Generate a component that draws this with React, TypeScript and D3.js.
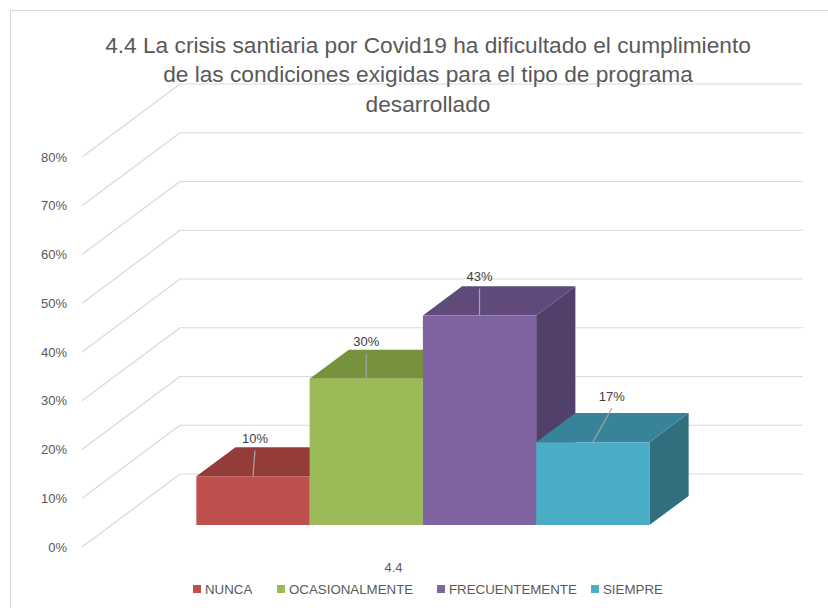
import React from "react";
import * as d3 from "d3";

const titleLines = [
  "4.4 La crisis santiaria por Covid19 ha dificultado el cumplimiento",
  "de las condiciones exigidas para el tipo de programa",
  "desarrollado",
];
const category = "4.4";
const seriesNames = ["NUNCA", "OCASIONALMENTE", "FRECUENTEMENTE", "SIEMPRE"];
const seriesValues = [0.1, 0.3, 0.43, 0.17];
const yTicks = [0, 0.1, 0.2, 0.3, 0.4, 0.5, 0.6, 0.7, 0.8];
const frontColors = ["#C0504D", "#9BBB59", "#8064A2", "#4BACC6"];
const topColors = ["#943C3A", "#76923C", "#604A7B", "#37849A"];
const sideColors = ["#7A302E", "#627A31", "#523F6A", "#316F7F"];
const labelShiftX = [2, 0, 0, 19];
const labelShiftY = [-38, -37, -39, -46];

const W = 828;
const H = 608;
const DX = 98;
const DY = -73;
const D0 = 0.3;
const D1 = 0.7;

export default function App() {
  const y = d3.scaleLinear().domain([0, 0.8]).range([547, 157]);
  const x = d3.scaleBand<string>().domain(seriesNames).range([82, 705]).paddingInner(0).paddingOuter(0.75);
  const fmt = d3.format(".0%");

  const P = (px: number, v: number, d: number): [number, number] => [px + d * DX, y(v) + d * DY];
  const poly = (pts: [number, number][]) => d3.line()(pts)! + "Z";

  const grey = "#595959";
  const font = "'Liberation Sans', Arial, sans-serif";

  return (
    <svg width={W} height={H} style={{ position: "absolute", left: 0, top: 0, background: "#fff" }}>
      <rect x={10.5} y={10.5} width={830} height={620} fill="#fff" stroke="#D9D9D9" />
      {/* gridlines: left wall diagonals and back wall horizontals */}
      {yTicks.map((t) => {
        const a = P(82, t, 0);
        const b = P(82, t, 1);
        const c = P(705, t, 1);
        return (
          <g key={t}>
            <line x1={a[0]} y1={a[1]} x2={b[0]} y2={b[1]} stroke="#D9D9D9" strokeWidth={1.2} />
            <line x1={b[0]} y1={b[1]} x2={c[0]} y2={c[1]} stroke="#D9D9D9" strokeWidth={1.2} />
          </g>
        );
      })}
      {yTicks.map((t) => (
        <text key={"l" + t} x={67} y={y(t)} dy="0.35em" textAnchor="end" fontFamily={font} fontSize={13} fill={grey}>
          {fmt(t)}
        </text>
      ))}
      {/* bars */}
      {seriesNames.map((s, i) => {
        const x0 = x(s)!;
        const x1 = x0 + x.bandwidth();
        const v = seriesValues[i];
        const front = poly([P(x0, 0, D0), P(x1, 0, D0), P(x1, v, D0), P(x0, v, D0)]);
        const top = poly([P(x0, v, D0), P(x1, v, D0), P(x1, v, D1), P(x0, v, D1)]);
        const side = poly([P(x1, 0, D0), P(x1, 0, D1), P(x1, v, D1), P(x1, v, D0)]);
        return (
          <g key={s}>
            <path d={side} fill={sideColors[i]} />
            <path d={top} fill={topColors[i]} />
            <path d={front} fill={frontColors[i]} />
          </g>
        );
      })}
      {/* data labels with leader lines */}
      {seriesNames.map((s, i) => {
        const cx = x(s)! + x.bandwidth() / 2;
        const v = seriesValues[i];
        const [bx, by] = P(cx, v, D0);
        const lx = bx + labelShiftX[i];
        const ly = by + labelShiftY[i];
        return (
          <g key={"d" + s}>
            <line x1={lx} y1={ly + 12} x2={bx} y2={by} stroke="#A6A6A6" strokeWidth={1.2} />
            <text x={lx} y={ly} dy="0.35em" textAnchor="middle" fontFamily={font} fontSize={13} fill="#404040">
              {fmt(v)}
            </text>
          </g>
        );
      })}
      {/* category label */}
      <text x={(82 + 705) / 2} y={567} dy="0.35em" textAnchor="middle" fontFamily={font} fontSize={13} fill={grey}>
        {category}
      </text>
      {/* title */}
      {titleLines.map((t, i) => (
        <text key={i} x={428} y={45 + i * 29.5} dy="0.35em" textAnchor="middle" fontFamily={font} fontSize={22.7} fill={grey}>
          {t}
        </text>
      ))}
      {/* legend */}
      {(() => {
        const lx = [193, 277, 437, 591];
        return seriesNames.map((s, i) => (
          <g key={"lg" + s}>
            <rect x={lx[i]} y={585} width={8} height={8} fill={frontColors[i]} />
            <text x={lx[i] + 12} y={589} dy="0.35em" fontFamily={font} fontSize={13.3} fill={grey}>
              {s}
            </text>
          </g>
        ));
      })()}
    </svg>
  );
}
